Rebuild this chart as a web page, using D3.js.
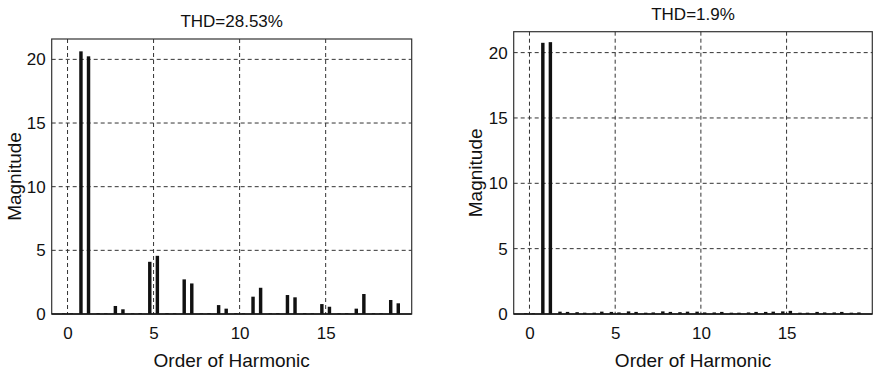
<!DOCTYPE html>
<html>
<head>
<meta charset="utf-8">
<script src="https://cdn.jsdelivr.net/npm/d3@7"></script>
<style>
  body { margin: 0; background: #fff; }
  svg { display: block; font-family: "Liberation Sans", Arial, sans-serif; }
</style>
</head>
<body>
<svg id="chart" width="878" height="378"></svg>
<script>
// harmonic orders on the x axis
const harmonics = [0, 1, 2, 3, 4, 5, 6, 7, 8, 9, 10, 11, 12, 13, 14, 15, 16, 17, 18, 19];
const xTicks = [0, 5, 10, 15];
const yTicks = [0, 5, 10, 15, 20];

// left panel
const leftTitle = "THD=28.53%";
const leftSeriesA = [0.05, 20.63, 0.06, 0.63, 0.05, 4.1, 0.06, 2.72, 0.05, 0.7, 0.06, 1.36, 0.05, 1.49, 0.06, 0.78, 0.05, 0.42, 0.06, 1.1];
const leftSeriesB = [0.05, 20.24, 0.05, 0.37, 0.06, 4.57, 0.05, 2.4, 0.06, 0.42, 0.05, 2.06, 0.06, 1.31, 0.05, 0.57, 0.06, 1.57, 0.05, 0.84];

// right panel
const rightTitle = "THD=1.9%";
const rightSeriesA = [0.06, 20.75, 0.18, 0.14, 0.1, 0.16, 0.2, 0.1, 0.2, 0.14, 0.18, 0.12, 0.1, 0.12, 0.16, 0.2, 0.1, 0.16, 0.12, 0.1];
const rightSeriesB = [0.05, 20.8, 0.16, 0.1, 0.18, 0.12, 0.16, 0.12, 0.16, 0.18, 0.12, 0.16, 0.1, 0.16, 0.18, 0.24, 0.1, 0.12, 0.16, 0.12];

const X_DOMAIN = [-0.92, 20.0];
const Y_DOMAIN = [0, 21.6];
const BAR_OFFSET = 0.22;
const BAR_WIDTH = 0.2;
const INK = "#111";

const svg = d3.select("#chart");

function drawPanel(box, title, seriesA, seriesB) {
    const { left, top, right, bottom, titleY, ylabelX } = box;
    const g = svg.append("g");

    const x = d3.scaleLinear().domain(X_DOMAIN).range([left, right]);
    const y = d3.scaleLinear().domain(Y_DOMAIN).range([bottom, top]);

    // dashed grid
    g.append("g")
        .selectAll("line")
        .data(xTicks)
        .enter()
        .append("line")
        .attr("x1", (d) => x(d))
        .attr("x2", (d) => x(d))
        .attr("y1", top)
        .attr("y2", bottom)
        .attr("stroke", "#333")
        .attr("stroke-width", 1)
        .attr("stroke-dasharray", "4,3");

    g.append("g")
        .selectAll("line")
        .data(yTicks.filter((d) => d > 0))
        .enter()
        .append("line")
        .attr("x1", left)
        .attr("x2", right)
        .attr("y1", (d) => y(d))
        .attr("y2", (d) => y(d))
        .attr("stroke", "#333")
        .attr("stroke-width", 1)
        .attr("stroke-dasharray", "4,3");

    // bars, two per harmonic
    const bars = [];
    harmonics.forEach((h, i) => {
        bars.push({ pos: h - BAR_OFFSET, value: seriesA[i] });
        bars.push({ pos: h + BAR_OFFSET, value: seriesB[i] });
    });
    const barPx = x(BAR_WIDTH) - x(0);

    g.append("g")
        .selectAll("rect")
        .data(bars)
        .enter()
        .append("rect")
        .attr("x", (d) => x(d.pos) - barPx / 2)
        .attr("width", barPx)
        .attr("y", (d) => y(d.value))
        .attr("height", (d) => y(0) - y(d.value))
        .attr("fill", INK);

    // frame
    g.append("rect")
        .attr("x", left)
        .attr("y", top)
        .attr("width", right - left)
        .attr("height", bottom - top)
        .attr("fill", "none")
        .attr("stroke", "#333")
        .attr("stroke-width", 1.2);
    g.append("line")
        .attr("x1", left)
        .attr("x2", right)
        .attr("y1", bottom)
        .attr("y2", bottom)
        .attr("stroke", INK)
        .attr("stroke-width", 1.6);

    // axes: labels only
    const xAxis = d3.axisBottom(x).tickValues(xTicks).tickSize(0).tickPadding(13);
    g.append("g")
        .attr("transform", `translate(0,${bottom})`)
        .call(xAxis)
        .call((a) => {
            a.select(".domain").remove();
            a.selectAll(".tick text")
                .attr("fill", INK)
                .style("font-size", "17px")
                .style("font-family", "Liberation Sans, Arial, sans-serif");
        });

    const yAxis = d3.axisLeft(y).tickValues(yTicks).tickSize(0).tickPadding(6);
    g.append("g")
        .attr("transform", `translate(${left},0)`)
        .call(yAxis)
        .call((a) => {
            a.select(".domain").remove();
            a.selectAll(".tick text")
                .attr("fill", INK)
                .style("font-size", "17px")
                .style("font-family", "Liberation Sans, Arial, sans-serif");
        });

    // titles and axis names
    g.append("text")
        .attr("x", (left + right) / 2)
        .attr("y", titleY)
        .attr("text-anchor", "middle")
        .attr("fill", INK)
        .style("font-size", "17px")
        .text(title);

    g.append("text")
        .attr("x", (left + right) / 2)
        .attr("y", 367)
        .attr("text-anchor", "middle")
        .attr("fill", INK)
        .style("font-size", "19px")
        .text("Order of Harmonic");

    g.append("text")
        .attr("transform", `translate(${ylabelX},${(top + bottom) / 2}) rotate(-90)`)
        .attr("text-anchor", "middle")
        .attr("fill", INK)
        .style("font-size", "19px")
        .text("Magnitude");
}

drawPanel({ left: 51.7, top: 39, right: 411.7, bottom: 314, titleY: 27, ylabelX: 21 }, leftTitle, leftSeriesA, leftSeriesB);
drawPanel({ left: 513.7, top: 31.7, right: 872.3, bottom: 314, titleY: 20, ylabelX: 482 }, rightTitle, rightSeriesA, rightSeriesB);
</script>
</body>
</html>
